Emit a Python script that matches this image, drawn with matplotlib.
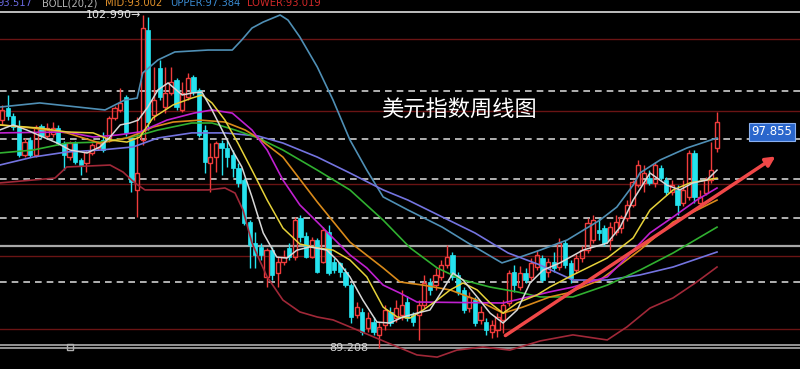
import numpy as np
import matplotlib
matplotlib.use("Agg")
import matplotlib.pyplot as plt
from matplotlib.patches import Rectangle, FancyArrowPatch

# weekly candles of the dollar index
opens = [98.64, 99.14, 98.81, 98.35, 97.20, 97.82, 97.20, 98.40, 97.98, 98.06,
         98.31, 97.69, 97.11, 97.69, 96.99, 96.86, 97.28, 97.49, 97.82, 97.82,
         98.73, 99.06, 99.60, 97.82, 95.75, 97.82, 102.37, 98.85, 100.80, 99.18,
         99.76, 100.30, 99.06, 99.60, 100.42, 99.89, 98.23, 96.86, 97.11, 97.69,
         97.49, 97.20, 96.66, 96.16, 94.42, 93.55, 93.39, 92.15, 93.26, 92.31,
         92.77, 93.35, 92.97, 94.59, 93.84, 92.97, 93.68, 92.77, 94.01, 92.77,
         92.73, 92.35, 91.81, 90.57, 90.70, 90.03, 90.28, 89.75, 90.16, 90.70,
         90.45, 90.57, 91.11, 90.57, 90.57, 90.98, 91.94, 91.81, 92.15, 92.64,
         93.06, 92.23, 91.61, 90.86, 91.19, 90.37, 90.28, 89.87, 89.95, 90.37,
         91.07, 92.35, 91.73, 92.31, 92.15, 92.56, 92.93, 92.35, 92.77, 92.56,
         93.55, 92.73, 92.43, 92.93, 93.26, 93.68, 94.09, 94.17, 93.68, 94.01,
         94.17, 94.59, 95.13, 95.95, 96.04, 96.24, 96.04, 96.66, 96.16, 95.66,
         95.75, 95.21, 95.46, 97.28, 95.21, 95.62, 96.16, 97.49]
closes = [99.06, 98.81, 98.35, 97.20, 97.73, 97.20, 98.35, 97.98, 98.31, 98.31,
          97.69, 97.20, 97.69, 96.91, 96.78, 97.32, 97.61, 97.69, 97.40, 98.73,
          99.14, 99.35, 98.11, 96.08, 96.45, 102.45, 98.56, 99.47, 99.60, 99.76,
          100.22, 99.18, 99.76, 100.38, 99.80, 98.02, 96.91, 97.11, 97.69, 97.49,
          97.11, 96.66, 96.04, 94.38, 93.47, 93.06, 93.06, 93.26, 92.23, 92.77,
          92.97, 92.97, 94.50, 93.80, 92.97, 93.68, 92.35, 94.09, 92.31, 92.43,
          92.35, 91.81, 90.49, 90.90, 89.87, 90.45, 89.87, 90.08, 90.78, 90.24,
          90.86, 90.98, 90.45, 90.28, 90.98, 91.90, 91.61, 92.23, 92.64, 92.97,
          92.15, 91.53, 90.78, 91.32, 90.24, 90.70, 89.95, 90.16, 90.49, 90.98,
          92.31, 91.81, 92.31, 92.02, 92.73, 93.06, 92.02, 92.77, 92.52, 93.55,
          92.64, 92.10, 92.93, 93.26, 94.38, 94.50, 93.97, 93.55, 94.21, 94.42,
          94.63, 95.13, 96.08, 96.78, 96.45, 96.04, 96.78, 96.24, 95.66, 95.95,
          95.13, 95.75, 97.28, 95.46, 95.46, 96.16, 96.57, 98.56]
highs = [99.27, 99.68, 98.93, 98.64, 97.90, 97.94, 98.44, 98.48, 98.52, 98.56,
         98.44, 97.77, 97.77, 97.77, 97.07, 97.40, 97.69, 97.77, 98.15, 98.81,
         99.22, 99.97, 99.68, 97.94, 98.77, 102.99, 102.90, 100.84, 101.13, 100.84,
         100.84, 100.38, 100.22, 100.59, 100.51, 99.97, 98.44, 97.69, 97.77, 97.82,
         97.82, 97.40, 96.86, 96.24, 94.50, 94.01, 93.55, 93.35, 93.39, 92.97,
         93.26, 93.55, 94.63, 94.71, 94.01, 93.80, 93.76, 94.21, 94.30, 92.93,
         92.77, 92.52, 91.90, 91.11, 90.86, 90.70, 90.49, 90.28, 90.98, 90.90,
         91.19, 91.61, 91.36, 90.70, 91.19, 92.23, 92.10, 92.52, 92.85, 93.47,
         93.18, 92.35, 91.73, 91.53, 91.32, 90.94, 90.45, 90.37, 90.65, 91.19,
         92.43, 92.64, 92.60, 92.52, 92.93, 93.26, 93.06, 92.93, 93.18, 93.76,
         93.68, 92.85, 93.10, 93.43, 94.59, 94.71, 94.59, 94.30, 94.42, 94.71,
         94.71, 95.33, 96.16, 96.99, 96.78, 96.57, 96.91, 96.78, 96.29, 96.16,
         95.95, 96.16, 97.40, 97.40, 95.75, 96.29, 97.73, 98.97]
lows = [98.44, 98.64, 98.23, 97.11, 97.11, 97.11, 97.11, 97.90, 97.90, 97.94,
        97.61, 96.57, 96.99, 96.82, 96.37, 96.49, 97.20, 97.40, 97.32, 97.73,
        98.64, 98.97, 97.98, 95.66, 94.63, 97.61, 98.23, 98.64, 99.47, 98.93,
        99.68, 99.06, 98.97, 99.47, 99.68, 97.94, 96.45, 95.66, 96.49, 96.37,
        96.70, 96.29, 95.87, 94.30, 92.52, 92.52, 92.85, 91.73, 92.02, 91.73,
        92.64, 92.85, 92.85, 93.59, 92.93, 92.93, 92.31, 92.73, 92.23, 92.31,
        92.15, 91.73, 90.24, 90.45, 89.75, 89.87, 89.75, 89.21, 89.95, 90.12,
        90.28, 90.37, 90.32, 90.12, 89.54, 90.86, 91.40, 91.61, 92.02, 92.52,
        92.02, 91.40, 90.65, 90.70, 90.12, 90.20, 89.75, 89.62, 89.66, 89.83,
        90.94, 91.53, 91.61, 91.90, 92.02, 92.43, 91.94, 92.15, 92.35, 92.43,
        92.52, 91.90, 92.31, 92.77, 93.14, 93.55, 93.68, 93.43, 93.26, 93.88,
        93.97, 94.46, 95.04, 95.87, 95.66, 95.95, 95.87, 96.16, 95.54, 95.54,
        94.71, 95.09, 95.33, 95.21, 95.04, 95.54, 96.04, 97.32]

# indicator lines: (week index, price)
boll_up_x = [-0.4, 6.7, 18.3, 21.8, 24.0, 25.0, 27.7, 30.7, 36.6, 40.9, 42.6, 44.4, 46.4, 49.4,
             50.8, 52.9, 56.0, 58.8, 61.8, 64.8, 67.7, 72.1, 78.2, 82.8, 88.8, 92.0, 95.6,
             100.4, 106.2, 109.2, 112.1, 113.3, 116.9, 121.7, 127.0]
boll_up = [99.18, 99.35, 99.06, 99.47, 99.55, 100.59, 101.13, 101.46, 101.54, 101.54, 101.96,
           102.45, 102.70, 102.99, 102.78, 102.08, 100.84, 99.47, 97.82, 96.57, 95.46, 94.92,
           94.21, 93.55, 92.73, 92.97, 93.26, 93.68, 94.50, 95.04, 95.95, 96.45, 96.99, 97.49,
           97.90]
boll_low_x = [-0.4, 9.4, 11.5, 19.2, 21.5, 23.6, 25.4, 36.6, 39.6, 41.4, 42.8, 44.4, 45.5, 47.1,
              49.9, 52.9, 56.0, 58.8, 61.8, 67.7, 73.7, 77.3, 80.8, 85.4, 90.2, 95.6, 101.4,
              107.5, 111.0, 115.1, 119.2, 123.4, 127.0]
boll_low = [96.04, 96.24, 96.70, 96.78, 96.49, 96.04, 95.75, 95.75, 95.83, 95.62, 94.92, 93.55,
            92.97, 92.15, 91.19, 90.70, 90.49, 90.37, 90.08, 89.50, 88.92, 88.83, 89.12, 89.25,
            89.12, 89.50, 89.75, 89.54, 90.08, 90.86, 91.28, 91.94, 92.56]
boll_mid_x = [-0.4, 5.5, 11.5, 17.4, 22.2, 24.5, 26.8, 30.4, 35.2, 39.6, 43.2, 45.5, 49.9, 56.0,
              61.8, 67.7, 70.7, 74.8, 79.6, 84.4, 89.0, 92.5, 97.3, 100.4, 106.2, 113.3, 119.2,
              127.0]
boll_mid = [98.44, 98.31, 98.11, 97.69, 97.90, 98.11, 98.35, 98.56, 98.64, 98.56, 98.23, 97.90,
            97.11, 95.25, 93.59, 92.52, 91.94, 91.81, 91.61, 91.19, 90.65, 90.90, 91.32, 91.48,
            92.02, 93.26, 94.42, 95.33]
ma5_x = [-0.4, 1.95, 4.4, 7.3, 9.8, 12.1, 15.1, 17.4, 19.2, 21.0, 22.7, 24.2, 25.9, 27.7, 29.5,
         32.0, 33.7, 35.5, 37.3, 39.1, 40.9, 42.6, 44.4, 46.4, 48.8, 50.6, 52.4, 54.7, 57.7,
         59.5, 61.8, 64.1, 66.6, 68.9, 71.2, 73.7, 76.0, 78.3, 80.1, 81.9, 84.4, 86.7, 89.0,
         91.5, 93.8, 96.1, 99.1, 103.2, 107.5, 109.8, 112.1, 115.1, 118.1, 120.4, 122.7,
         125.2, 127.0]
ma5 = [98.23, 98.44, 98.23, 97.94, 97.69, 97.40, 97.28, 97.53, 97.94, 98.44, 98.52, 98.64,
       99.18, 99.89, 100.18, 99.68, 99.76, 99.80, 99.06, 98.23, 97.40, 96.70, 95.46, 93.97,
       92.97, 92.93, 93.26, 93.39, 93.26, 92.85, 92.15, 91.19, 90.28, 90.24, 90.49, 90.65,
       90.78, 91.61, 92.31, 92.02, 91.32, 90.65, 90.24, 90.78, 91.90, 92.43, 92.73, 93.26,
       93.55, 94.21, 95.33, 96.45, 95.95, 95.75, 96.04, 96.16, 96.57]
ma10_x = [-0.4, 6.7, 11.5, 16.2, 19.2, 22.2, 24.5, 26.8, 30.4, 33.7, 35.5, 37.3, 39.6, 41.9,
          44.4, 47.1, 49.9, 52.9, 56.0, 58.8, 61.8, 64.8, 67.7, 70.2, 72.5, 74.8, 77.3, 79.6,
          81.9, 84.4, 86.7, 89.0, 91.5, 95.0, 97.3, 101.4, 107.5, 112.1, 115.1, 119.2, 122.2,
          127.0]
ma10 = [98.44, 98.31, 98.15, 98.11, 97.82, 97.73, 97.94, 98.73, 99.27, 99.55, 99.68, 99.35,
        98.64, 97.69, 96.57, 95.33, 94.17, 93.51, 93.35, 93.26, 92.85, 92.15, 90.90, 90.49,
        90.45, 90.78, 91.19, 91.61, 91.90, 91.61, 91.07, 90.65, 91.07, 91.40, 91.73, 92.23,
        92.93, 93.76, 94.92, 95.75, 96.04, 96.24]
ma15_x = [-0.4, 11.5, 16.2, 20.4, 24.5, 29.3, 34.1, 37.3, 40.9, 44.4, 47.1, 49.9, 52.9, 56.0,
          58.8, 61.8, 64.8, 67.7, 70.7, 73.7, 89.0, 97.3, 101.4, 107.5, 111.0, 115.1, 119.2,
          123.4, 127.0]
ma15 = [98.11, 98.15, 97.94, 98.02, 98.15, 98.64, 98.93, 99.06, 98.93, 98.23, 97.40, 96.16,
        95.13, 94.42, 93.76, 93.06, 92.52, 91.81, 91.48, 91.11, 91.07, 91.53, 91.73, 92.15,
        92.97, 93.97, 94.63, 95.33, 95.83]
ma60_x = [-0.4, 5.5, 11.5, 17.4, 23.3, 27.7, 33.7, 37.3, 41.4, 45.5, 49.9, 56.0, 61.8, 67.7,
          72.5, 77.3, 81.9, 86.7, 91.5, 95.6, 101.4, 107.5, 113.3, 119.2, 127.0]
ma60 = [97.28, 97.40, 97.69, 97.73, 97.94, 98.23, 98.52, 98.52, 98.23, 97.90, 97.40, 96.57,
        95.75, 94.50, 93.35, 92.52, 92.02, 91.73, 91.53, 91.32, 91.32, 91.81, 92.43, 93.14,
        94.21]
ma120_x = [-0.4, 5.5, 11.5, 17.4, 23.3, 27.7, 33.7, 39.6, 45.5, 49.9, 56.0, 61.8, 67.7, 72.1,
           78.2, 84.0, 89.9, 95.6, 101.4, 107.5, 113.3, 119.2, 127.0]
ma120 = [96.78, 97.11, 97.32, 97.40, 97.53, 97.90, 98.11, 98.11, 97.98, 97.69, 97.11, 96.45,
         95.75, 95.33, 94.63, 93.97, 93.14, 92.64, 92.02, 92.02, 92.23, 92.56, 93.18]

dashed_levels = [99.84, 97.855, 96.20, 94.59, 91.94]
grid_levels = [102, 99, 96, 93, 90]
trend_start = (89.0, 89.66)
trend_end = (137.8, 97.20)

fig = plt.figure(figsize=(8, 3.69), dpi=100, facecolor="black")
ax = fig.add_axes([0, 0, 1, 1])
ax.set_facecolor("black")
ax.set_xlim(-0.355, 141.74)
ax.set_ylim(88.338, 103.611)
ax.axis("off")

for lv in grid_levels:
    ax.axhline(lv, color="#6a1414", lw=1, zorder=1)
for lv in dashed_levels:
    ax.axhline(lv, color="#cfcfcf", lw=1.2, ls=(0, (4, 3)), zorder=1)
ax.axhline(103.11, color="#cccccc", lw=1.3, zorder=1)
ax.axhline(93.43, color="#a8a8a8", lw=1.6, zorder=1)
ax.axhline(89.33, color="#a0a0a0", lw=1.3, zorder=1)
ax.axhline(89.19, color="#a0a0a0", lw=1.3, zorder=1)

red = "#f03c3c"
cyan = "#25e3ef"
w = 0.75
for i in range(len(opens)):
    o, h, l, c = opens[i], highs[i], lows[i], closes[i]
    if c >= o:
        ax.vlines(i, c, h, color=red, lw=1, zorder=2)
        ax.vlines(i, l, o, color=red, lw=1, zorder=2)
        ax.add_patch(Rectangle((i - w / 2, o), w, max(c - o, 0.02), fill=False,
                               edgecolor=red, lw=1, zorder=2))
    else:
        ax.vlines(i, l, h, color=cyan, lw=1, zorder=2)
        ax.add_patch(Rectangle((i - w / 2, c), w, o - c, facecolor=cyan,
                               edgecolor=cyan, lw=0.5, zorder=2))

ax.plot(boll_up_x, boll_up, color="#4f8fb5", lw=1.2, zorder=3)
ax.plot(boll_low_x, boll_low, color="#a02838", lw=1.2, zorder=3)
ax.plot(ma120_x, ma120, color="#7474e0", lw=1.2, zorder=3)
ax.plot(ma60_x, ma60, color="#30b030", lw=1.2, zorder=3)
ax.plot(boll_mid_x, boll_mid, color="#d98a1a", lw=1.2, zorder=3)
ax.plot(ma15_x, ma15, color="#c020d0", lw=1.2, zorder=3)
ax.plot(ma10_x, ma10, color="#e6d23a", lw=1.1, zorder=3)
ax.plot(ma5_x, ma5, color="#d8d8d8", lw=1.1, zorder=3)

arr = FancyArrowPatch(trend_start, trend_end, arrowstyle="-|>", mutation_scale=14,
                      color="#f04848", lw=2.5, zorder=4)
ax.add_patch(arr)

# labels
ax.text(24.8, 102.99, "102.990\u2192", color="#e8e8e8", fontsize=8, ha="right",
        va="center", zorder=5)
ax.text(65.0, 89.21, "89.208", color="#d8d8d8", fontsize=8, ha="right", va="center",
        zorder=5)
ax.plot([12.1], [89.26], marker="s", ms=4, mfc="none", mec="#b0b0b0", zorder=5)

fig.text(459 / 800, 1 - 110 / 369, "美元指数周线图", color="white", fontsize=16,
         family=["Noto Sans CJK SC", "DejaVu Sans"], ha="center", va="center")

# indicator header, partly clipped at the top edge as in the screenshot
header = [(-3, "93.517", "#6a6ae0"), (42, "BOLL(20,2)", "#b4b4b4"),
          (105, "MID:93.002", "#e0902a"), (170, "UPPER:97.384", "#3a8ad0"),
          (247, "LOWER:93.019", "#d02828")]
for px, txt, col in header:
    fig.text(px / 800, 1 - 6 / 369, txt, color=col, fontsize=7.2, ha="left",
             va="baseline")

fig.text(772 / 800, 1 - 132 / 369, "97.855", color="white", fontsize=8.5, ha="center",
         va="center", bbox=dict(boxstyle="square,pad=0.25", facecolor="#2a66cc",
                                edgecolor="#8ab0f0", lw=0.8))

fig.savefig("out.png", dpi=100, facecolor="black")
